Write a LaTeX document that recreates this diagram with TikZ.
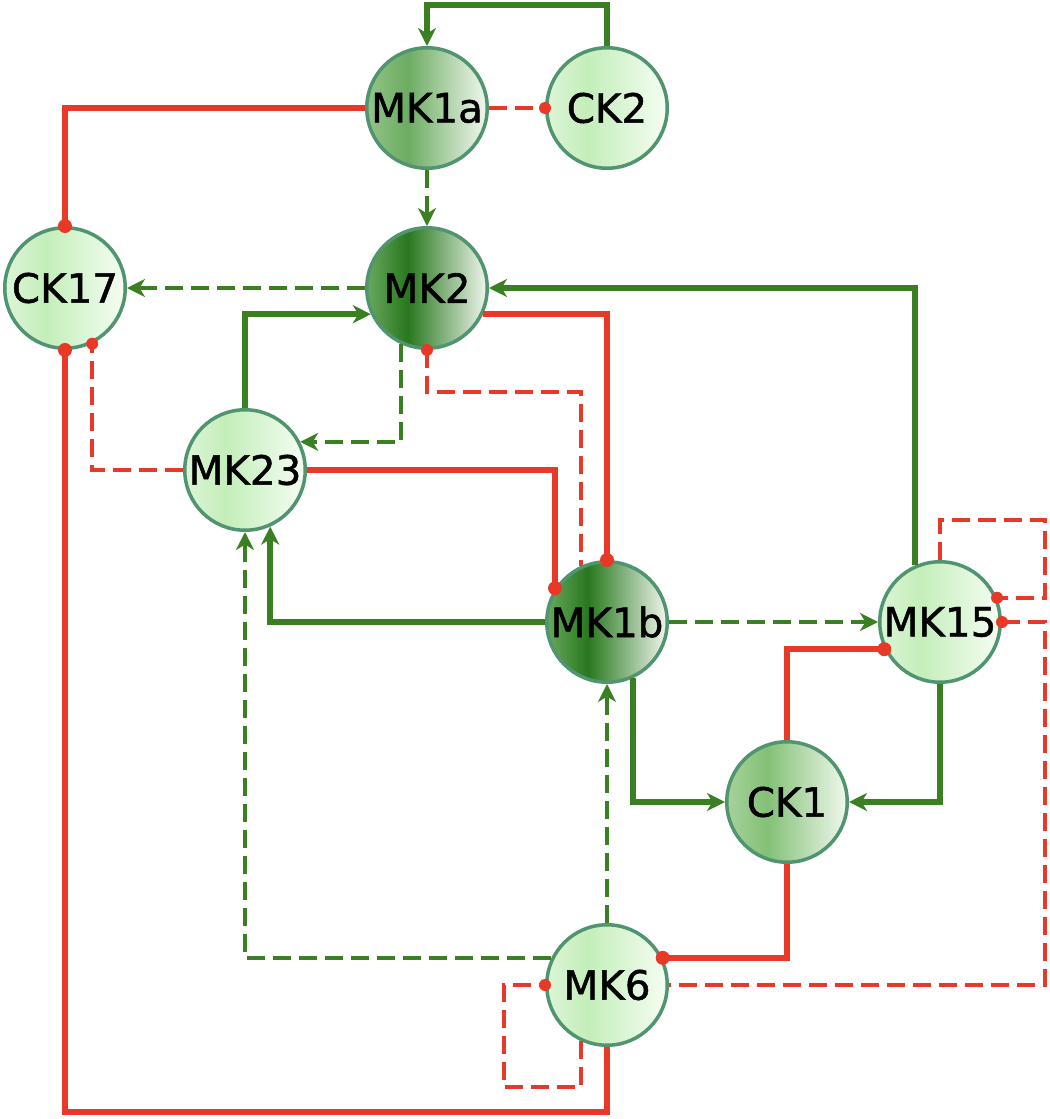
\documentclass[tikz,border=0pt]{standalone}
\usepackage{fontspec}
\setmainfont{DejaVu Sans}
\newfontfamily\nodefont{DejaVu Sans}[FakeBold=1.2]
\usetikzlibrary{arrows.meta}
\definecolor{gline}{RGB}{58,128,35}
\definecolor{rline}{RGB}{232,57,40}
\definecolor{nborder}{RGB}{80,148,112}
\definecolor{dkA}{RGB}{105,168,95}
\definecolor{dkB}{RGB}{40,120,30}
\definecolor{dkC}{RGB}{240,246,238}
\definecolor{mdA}{RGB}{148,196,138}
\definecolor{mdB}{RGB}{108,172,98}
\definecolor{mdC}{RGB}{242,248,240}
\definecolor{ckA}{RGB}{165,210,155}
\definecolor{ckB}{RGB}{132,192,118}
\definecolor{ckC}{RGB}{240,248,238}
\definecolor{ltA}{RGB}{220,245,215}
\definecolor{ltB}{RGB}{196,238,186}
\definecolor{ltC}{RGB}{245,253,243}
\pgfdeclarehorizontalshading{shdark}{100bp}{color(0bp)=(dkA); color(25bp)=(dkA); color(42bp)=(dkB); color(75bp)=(dkC); color(100bp)=(dkC)}
\pgfdeclarehorizontalshading{shmed}{100bp}{color(0bp)=(mdA); color(25bp)=(mdA); color(42bp)=(mdB); color(75bp)=(mdC); color(100bp)=(mdC)}
\pgfdeclarehorizontalshading{shck}{100bp}{color(0bp)=(ckA); color(25bp)=(ckA); color(42bp)=(ckB); color(75bp)=(ckC); color(100bp)=(ckC)}
\pgfdeclarehorizontalshading{shlight}{100bp}{color(0bp)=(ltA); color(25bp)=(ltA); color(42bp)=(ltB); color(75bp)=(ltC); color(100bp)=(ltC)}
\tikzset{
  kin/.style={circle, draw=nborder, line width=0.07cm, minimum size=2.41cm, inner sep=0pt, font=\nodefont\fontsize{23}{27}\selectfont},
  kdark/.style={kin, shading=shdark},
  kmed/.style={kin, shading=shmed},
  kck/.style={kin, shading=shck},
  klight/.style={kin, shading=shlight},
  tip/.style={-{Stealth[length=0.36cm,width=0.36cm,inset=0.11cm]}},
  gs/.style={draw=gline, line width=0.11cm, tip},
  gd/.style={draw=gline, line width=0.08cm, dash pattern=on 0.36cm off 0.16cm, tip},
  rs/.style={draw=rline, line width=0.11cm},
  rd/.style={draw=rline, line width=0.08cm, dash pattern=on 0.36cm off 0.16cm},
  bigdot/.style={fill=rline},
}
\begin{document}
\begin{tikzpicture}[x=0.02cm,y=-0.02cm]
\useasboundingbox (0,0) rectangle (1050,1119);
\fill[white] (0,0) rectangle (1050,1119);
% nodes
\node[kmed]   (MK1a) at (427,108) {MK1a};
\node[klight] (CK2)  at (607,108) {CK2};
\node[klight] (CK17) at (65,288)  {CK17};
\node[kdark]  (MK2)  at (427,288) {MK2};
\node[klight] (MK23) at (245,470) {MK23};
\node[kdark]  (MK1b) at (607,622) {MK1b};
\node[klight] (MK15) at (940,622) {MK15};
\node[kck]    (CK1)  at (787,802) {CK1};
\node[klight] (MK6)  at (607,985) {MK6};
% green solid
\draw[gs] (CK2.north) -- ++(0,-41) -| (MK1a.north);
\draw[gs] (MK15.114) |- (MK2.east);
\draw[gs] (MK23.north) |- (MK2.205);
\draw[gs] (MK1b.west) -| (MK23.294);
\draw[gs] (MK1b.295) |- (CK1.west);
\draw[gs] (MK15.south) |- (CK1.east);
% green dashed
\draw[gd] (MK1a.south) -- (MK2.north);
\draw[gd] (MK2.west) -- (CK17.east);
\draw[gd] (MK2.245) |- (MK23.27);
\draw[gd] (MK1b.east) -- (MK15.west);
\draw[gd] (MK6.north) -- (MK1b.south);
\draw[gd] (MK6.154) -| (MK23.south);
% red solid
\draw[rs] (MK1a.west) -| (CK17.north);
\draw[rs] (MK2.335) -| (MK1b.north);
\draw[rs] (MK23.east) -| (MK1b.147);
\draw[rs] (CK17.south) -- ++(0,762) -| (MK6.south);
\draw[rs] (CK1.north) |- (MK15.206);
\draw[rs] (CK1.south) |- (MK6.26);
% red dashed
\draw[rd] (MK1a.east) -- (CK2.west);
\draw[rd] (MK2.south) -- ++(0,42) -| (MK1b.115);
\draw[rd] (MK23.west) -| (CK17.296);
\draw[rd] (MK15.north) -- ++(0,-40) -- ++(105,0) |- (MK15.23);
\draw[rd] (MK15.east) -- ++(43,0) |- (MK6.east);
\draw[rd] (MK6.245) -- ++(0,46) -- ++(-77,0) |- (MK6.west);
% dots
\fill[bigdot] (CK17.north) circle[radius=0.14cm];
\fill[bigdot] (MK1b.north) circle[radius=0.14cm];
\fill[bigdot] (MK1b.147) circle[radius=0.14cm];
\fill[bigdot] (CK17.south) circle[radius=0.14cm];
\fill[bigdot] (MK15.206) circle[radius=0.14cm];
\fill[bigdot] (MK6.26) circle[radius=0.14cm];
\fill[bigdot] (CK2.west) circle[radius=0.12cm];
\fill[bigdot] (MK2.south) circle[radius=0.12cm];
\fill[bigdot] (CK17.296) circle[radius=0.12cm];
\fill[bigdot] (MK15.23) circle[radius=0.12cm];
\fill[bigdot] (MK15.east) circle[radius=0.12cm];
\fill[bigdot] (MK6.west) circle[radius=0.12cm];
\end{tikzpicture}
\end{document}
